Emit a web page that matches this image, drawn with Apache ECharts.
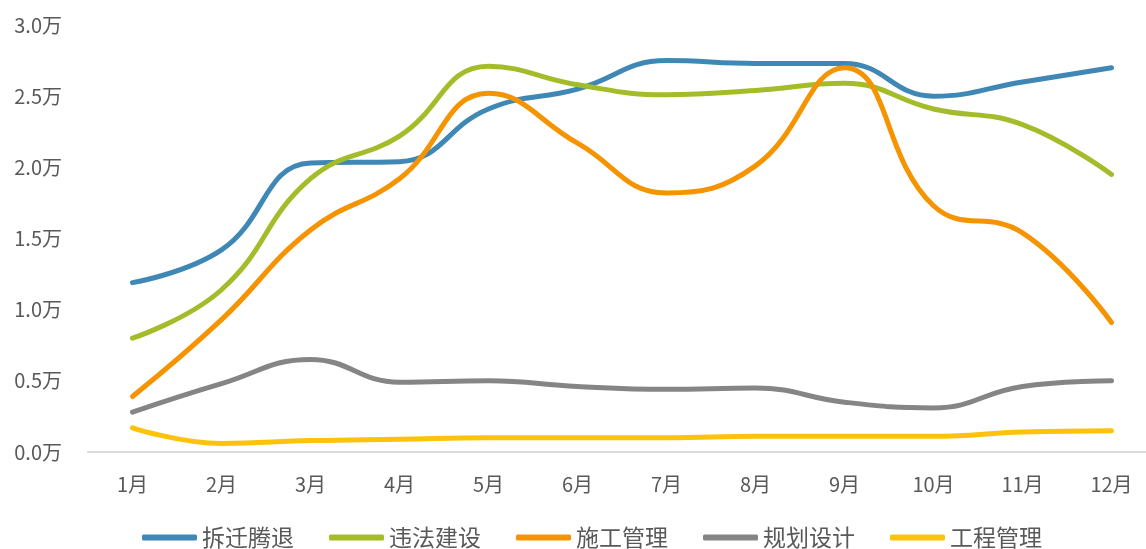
<!DOCTYPE html>
<html>
<head>
<meta charset="utf-8">
<script src="https://cdn.jsdelivr.net/npm/echarts@6/dist/echarts.min.js"></script>
<style>
    html, body { margin: 0; padding: 0; background: #fff; }
    #main { width: 1146px; height: 549px; }
</style>
</head>
<body>
<div id="main"></div>
<script>
// 月份
var months = ['1月', '2月', '3月', '4月', '5月', '6月', '7月', '8月', '9月', '10月', '11月', '12月']

// 各类别数值(单位:万)
var chaiqian = [1.19, 1.42, 2.03, 2.04, 2.41, 2.55, 2.75, 2.73, 2.73, 2.5, 2.6, 2.7]
var weifa = [0.8, 1.14, 1.92, 2.22, 2.71, 2.58, 2.51, 2.54, 2.59, 2.41, 2.3, 1.95]
var shigong = [0.39, 0.93, 1.56, 1.92, 2.52, 2.17, 1.82, 2.01, 2.7, 1.73, 1.54, 0.91]
var guihua = [0.28, 0.48, 0.65, 0.49, 0.5, 0.46, 0.44, 0.45, 0.35, 0.31, 0.46, 0.5]
var gongcheng = [0.17, 0.06, 0.08, 0.09, 0.1, 0.1, 0.1, 0.11, 0.11, 0.11, 0.14, 0.15]

var seriesNames = ['拆迁腾退', '违法建设', '施工管理', '规划设计', '工程管理']
var colors = ['#3f88b5', '#a5bc2a', '#f59300', '#858585', '#fdc20a']

var textFont = '"Noto Sans CJK SC", "Noto Sans", sans-serif'

function getLineSeries(name, data, color) {
    return {
        name: name,
        type: 'line',
        data: data,
        smooth: 0.45,
        symbol: 'none',
        lineStyle: {
            width: 5,
            color: color,
            cap: 'round',
            join: 'round'
        },
        itemStyle: { color: color },
        emphasis: { disabled: true }
    }
}

var allData = [chaiqian, weifa, shigong, guihua, gongcheng]
var series = seriesNames.map(function (name, i) {
    return getLineSeries(name, allData[i], colors[i])
})

var option = {
    animation: false,
    grid: {
        left: 88,
        width: 1068, // 绘图区略超出画布右侧
        top: 25,
        bottom: 97,
        outerBoundsMode: 'none'
    },
    legend: {
        bottom: -5,
        left: 137,
        itemWidth: 55,
        itemHeight: 6,
        itemGap: 35,
        icon: 'roundRect',
        textStyle: {
            fontSize: 23,
            color: '#595959',
            fontFamily: textFont
        },
        data: seriesNames
    },
    xAxis: {
        type: 'category',
        data: months,
        boundaryGap: true,
        axisLine: { lineStyle: { color: '#d9d9d9', width: 2 } },
        axisTick: { show: false },
        axisLabel: {
            margin: 22,
            fontSize: 20,
            color: '#595959',
            fontFamily: textFont
        }
    },
    yAxis: {
        type: 'value',
        min: 0,
        max: 3,
        interval: 0.5,
        splitLine: { show: false },
        axisLine: { show: false },
        axisTick: { show: false },
        axisLabel: {
            margin: 26,
            fontSize: 20,
            color: '#595959',
            fontFamily: textFont,
            formatter: function (v) { return v.toFixed(1) + '万' }
        }
    },
    series: series
}

var chart = echarts.init(document.getElementById('main'))
chart.setOption(option)
</script>
</body>
</html>
